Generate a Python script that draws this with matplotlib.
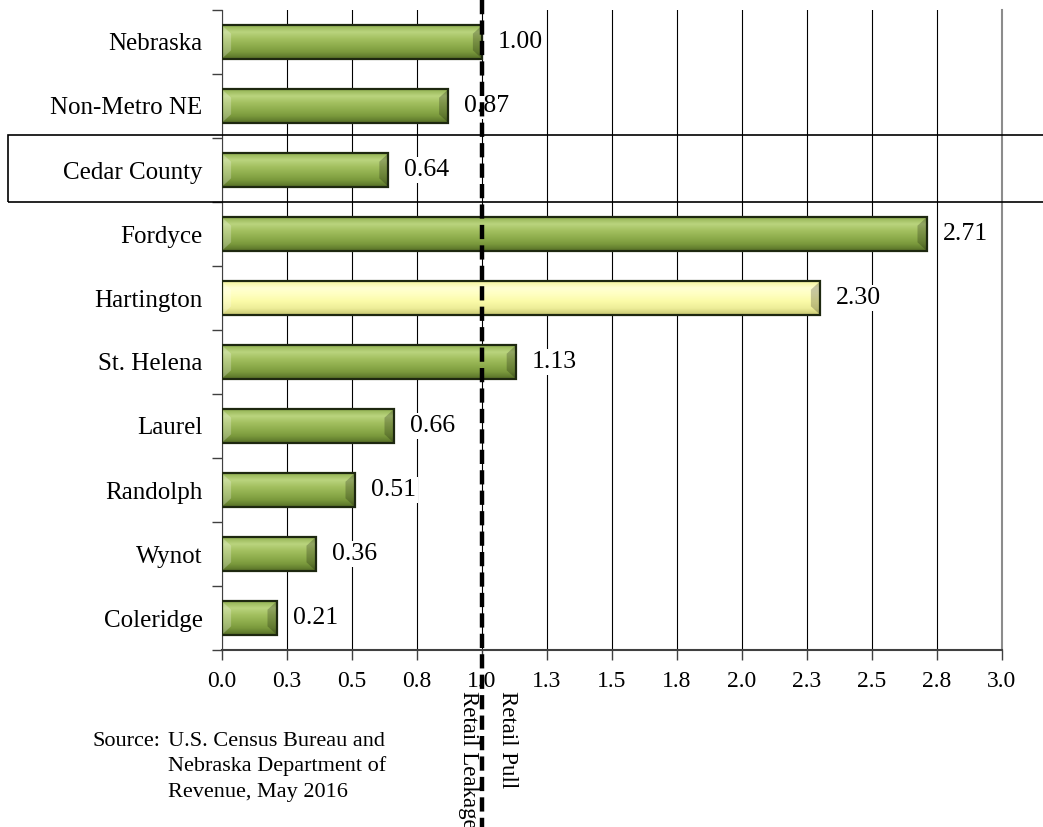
import numpy as np
import matplotlib.pyplot as plt
from matplotlib.patches import Rectangle, Polygon
from matplotlib.colors import LinearSegmentedColormap
from matplotlib.transforms import blended_transform_factory, offset_copy

places = ["Nebraska", "Non-Metro NE", "Cedar County", "Fordyce", "Hartington",
          "St. Helena", "Laurel", "Randolph", "Wynot", "Coleridge"]
pull_factor = [1.00, 0.87, 0.64, 2.71, 2.30, 1.13, 0.66, 0.51, 0.36, 0.21]
highlight = "Hartington"
x_ticks = [0.0, 0.25, 0.5, 0.75, 1.0, 1.25, 1.5, 1.75, 2.0, 2.25, 2.5, 2.75, 3.0]
x_tick_labels = ["0.0", "0.3", "0.5", "0.8", "1.0", "1.3", "1.5", "1.8", "2.0",
                 "2.3", "2.5", "2.8", "3.0"]
source_lines = ["U.S. Census Bureau and", "Nebraska Department of",
                "Revenue, May 2016"]

plt.rcParams['font.family'] = ['Liberation Serif', 'DejaVu Serif']

green = LinearSegmentedColormap.from_list(
    "g", ["#566f27", "#7a993c", "#8fae4d", "#a3c060", "#bad47e", "#93b253"])
yellow = LinearSegmentedColormap.from_list(
    "y", ["#c9c973", "#eeee99", "#fbfba8", "#ffffc0", "#ffffd2", "#f5f59c"])

fig = plt.figure(figsize=(10.43, 8.27), dpi=100)
ax = fig.add_axes([222 / 1043, 1 - 650 / 827, 780 / 1043, 640 / 827])

n = len(places)
ypos = np.arange(n)[::-1]
h = 0.52
grad = np.linspace(0, 1, 64).reshape(-1, 1)
bw, bh = 0.035, 0.13   # bevel size at the bar ends

bars = ax.barh(ypos, pull_factor, height=h, color="none",
               edgecolor="#1e2810", linewidth=1.6, zorder=4)
lab_tr = offset_copy(ax.transData, fig=fig, x=16, y=0, units="dots")
for bar, name, v in zip(bars, places, pull_factor):
    y0 = bar.get_y()
    cmap = yellow if name == highlight else green
    im = ax.imshow(grad, cmap=cmap, aspect="auto", origin="lower",
                   extent=[0, v, y0, y0 + h], zorder=3)
    im.set_clip_path(bar)
    # bevelled ends
    ax.add_patch(Polygon([(0, y0), (bw, y0 + bh), (bw, y0 + h - bh), (0, y0 + h)],
                         closed=True, facecolor="white", alpha=0.25,
                         edgecolor="none", zorder=3.5))
    ax.add_patch(Polygon([(v, y0), (v - bw, y0 + bh), (v - bw, y0 + h - bh),
                          (v, y0 + h)], closed=True, facecolor="black",
                         alpha=0.22, edgecolor="none", zorder=3.5))
    ax.text(v, y0 + h / 2, f"{v:.2f}", transform=lab_tr, ha="left",
            va="center", fontsize=18.5, zorder=6,
            bbox=dict(facecolor="white", edgecolor="none", pad=1.5))

ax.set_xlim(0, 3.0)
ax.set_ylim(-0.5, n - 0.5)
ax.set_xticks(x_ticks)
ax.set_xticklabels(x_tick_labels, fontsize=17)
ax.set_yticks(ypos)
ax.set_yticklabels(places, fontsize=18)
ax.tick_params(axis="y", length=0, pad=14)
ax.set_yticks(np.arange(-0.5, n, 1.0), minor=True)
ax.tick_params(axis="y", which="minor", length=7, width=1, color="#404040")
ax.tick_params(axis="x", length=7, width=1, color="#404040", pad=8)
ax.grid(axis="x", color="black", linewidth=0.8, zorder=0)
ax.set_axisbelow(True)

ax.spines["top"].set_visible(False)
ax.spines["right"].set_color("#8c8c8c")
ax.spines["right"].set_linewidth(1.5)
ax.spines["left"].set_color("#404040")
ax.spines["bottom"].set_color("#404040")
ax.spines["bottom"].set_linewidth(1.5)

# dashed break-even line across the whole figure
tr = blended_transform_factory(ax.transData, fig.transFigure)
ax.plot([1.0, 1.0], [1.0, 0.0], transform=tr, color="black", linewidth=3.2,
        dashes=(3.2, 1.4), clip_on=False, zorder=7)
ax.text(0.95, 0.165, "Retail Leakage", transform=tr, rotation=270, ha="center",
        va="top", fontsize=16.5)
ax.text(1.1, 0.165, "Retail Pull", transform=tr, rotation=270, ha="center",
        va="top", fontsize=16.5)

# box around the county row
fig.patches.append(Rectangle((8 / 1043, 1 - 202 / 827), 1.0, 67 / 827,
                             transform=fig.transFigure, fill=False,
                             edgecolor="black", linewidth=1.2))

fig.text(93 / 1043, 1 - 746 / 827, "Source:", fontsize=16, va="baseline")
for i, line in enumerate(source_lines):
    fig.text(168 / 1043, 1 - (746 + 25.5 * i) / 827, line, fontsize=16,
             va="baseline")

fig.savefig("out.png", dpi=100)
